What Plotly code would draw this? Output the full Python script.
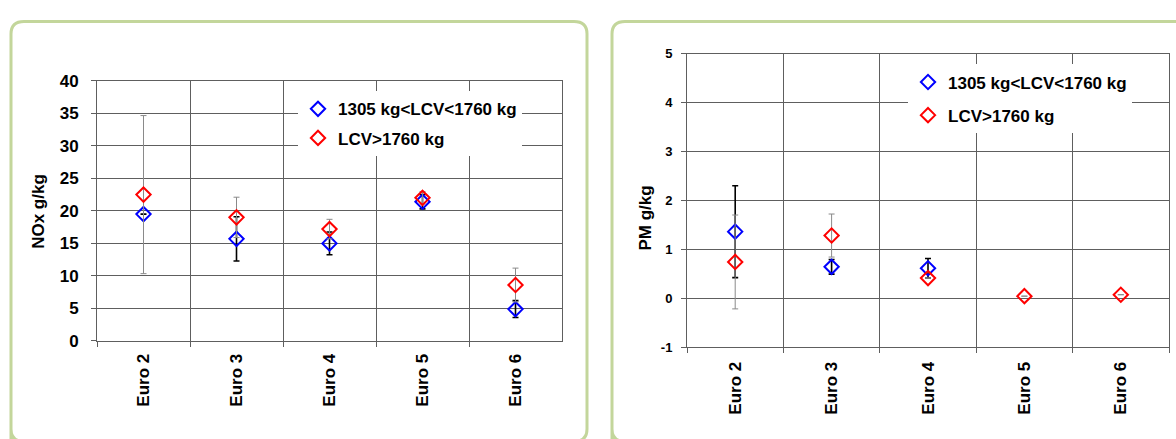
import plotly.graph_objects as go

# ---------------- data ----------------
categories = ["Euro 2", "Euro 3", "Euro 4", "Euro 5", "Euro 6"]
series_names = ["1305 kg<LCV<1760 kg", "LCV>1760 kg"]

nox_light = [19.5, 15.7, 15.0, 21.4, 4.9]
nox_light_err = [None, 3.4, 1.75, 1.1, 1.3]
nox_heavy = [22.5, 19.0, 17.2, 22.0, 8.6]
nox_heavy_err = [12.15, 3.1, 1.5, 0.95, 2.6]

pm_light = [1.36, 0.64, 0.61, None, None]
pm_light_err = [0.94, 0.15, 0.2, None, None]
pm_heavy = [0.74, 1.28, 0.41, 0.04, 0.07]
pm_heavy_err = [0.96, 0.44, None, None, None]

nox_ticks = [0, 5, 10, 15, 20, 25, 30, 35, 40]
pm_ticks = [-1, 0, 1, 2, 3, 4, 5]
pm_tick_labels = ["-1", "0", "1", "2", "3", "4", "5"]

# ---------------- styling ----------------
W, H = 1176, 439
FONT = "Liberation Sans, Arial, sans-serif"
BLUE, RED = "#0000ff", "#ff0000"
GRID = "#5e5e5e"
BORDER = "#c3d69b"


def px(x):
    return x / W


def py(y):
    return 1 - y / H


fig = go.Figure()


def add_pair(light, light_err, heavy, heavy_err, xa, ya, legend, tag):
    fig.add_trace(go.Scatter(
        x=categories, y=light, mode="markers", name=series_names[0],
        xaxis=xa, yaxis=ya, legend=legend, legendgroup=tag + "a",
        marker=dict(symbol="diamond-open", size=11, color=BLUE, line=dict(width=2, color=BLUE)),
        error_y=dict(type="data", array=light_err, visible=True, color="#000000", thickness=1.6, width=3),
    ))
    fig.add_trace(go.Scatter(
        x=categories, y=heavy, mode="markers", name=series_names[1],
        xaxis=xa, yaxis=ya, legend=legend, legendgroup=tag + "b",
        marker=dict(symbol="diamond-open", size=11, color=RED, line=dict(width=2, color=RED)),
        error_y=dict(type="data", array=heavy_err, visible=True, color="#8a8a8a", thickness=1, width=3),
    ))


add_pair(nox_light, nox_light_err, nox_heavy, nox_heavy_err, "x", "y", "legend", "nox")
add_pair(pm_light, pm_light_err, pm_heavy, pm_heavy_err, "x2", "y2", "legend2", "pm")

xaxis_common = dict(
    type="category", tickson="boundaries", range=[-0.5, 4.5],
    showgrid=True, gridcolor=GRID, gridwidth=1,
    ticks="outside", ticklen=5, tickcolor=GRID,
    showline=True, linecolor=GRID, mirror=True,
    tickangle=-90,
    tickfont=dict(family=FONT, size=17, color="#000000", weight="bold"),
    fixedrange=True,
)
yaxis_common = dict(
    showgrid=True, gridcolor=GRID, gridwidth=1, zeroline=False,
    ticks="outside", ticklen=5, tickcolor=GRID,
    showline=True, linecolor=GRID, mirror=True,
    fixedrange=True,
)

legend_common = dict(
    bgcolor="#ffffff", borderwidth=0, xanchor="left", yanchor="top",
    font=dict(family=FONT, size=17, color="#000000", weight="bold"),
    itemclick=False, itemdoubleclick=False,
)

fig.update_layout(
    width=W, height=H,
    margin=dict(l=0, r=0, t=0, b=0),
    paper_bgcolor="#ffffff", plot_bgcolor="#ffffff",
    showlegend=True,
    xaxis=dict(domain=[px(97), px(562)], anchor="y", ticklabelstandoff=5, **xaxis_common),
    yaxis=dict(domain=[py(347), py(75)], anchor="x", range=[0, 40],
               tickvals=nox_ticks,
               ticklabelstandoff=9,
               tickfont=dict(family=FONT, size=17, color="#000000", weight="bold"),
               **yaxis_common),
    xaxis2=dict(domain=[px(687), px(1169)], anchor="y2", ticklabelstandoff=7, **xaxis_common),
    yaxis2=dict(domain=[py(353.3), py(46.7)], anchor="x2", range=[-1, 5],
                tickvals=pm_ticks, ticktext=pm_tick_labels,
                ticklabelstandoff=6,
                tickfont=dict(family=FONT, size=13, color="#000000", weight="bold"),
                **yaxis_common),
    legend=dict(x=px(298), y=py(86), tracegroupgap=4, **legend_common),
    legend2=dict(x=px(908), y=py(58), tracegroupgap=8, **legend_common),
    annotations=[
        dict(text="NOx g/kg", xref="paper", yref="paper", x=px(39), y=py(212),
             textangle=-90, showarrow=False, xanchor="center", yanchor="middle",
             font=dict(family=FONT, size=17, color="#000000", weight="bold")),
        dict(text="PM g/kg", xref="paper", yref="paper", x=px(646), y=py(219),
             textangle=-90, showarrow=False, xanchor="center", yanchor="middle",
             font=dict(family=FONT, size=17, color="#000000", weight="bold")),
    ],
)


def rounded_box(x0, y0, x1, y1, r=13):
    rx, ry = r / W, r / H
    X0, X1 = px(x0), px(x1)
    Y0, Y1 = py(y0), py(y1)  # Y0 top, Y1 bottom
    return (f"M {X0},{Y1} L {X0},{Y0 - ry} Q {X0},{Y0} {X0 + rx},{Y0} "
            f"L {X1 - rx},{Y0} Q {X1},{Y0} {X1},{Y0 - ry} L {X1},{Y1 + ry} "
            f"Q {X1},{Y1} {X1 - rx},{Y1} L {X0 + rx},{Y1} Q {X0},{Y1} {X0},{Y1 + ry} Z")


fig.update_layout(shapes=[
    dict(type="path", xref="paper", yref="paper", path=rounded_box(11, 13, 587, 452),
         line=dict(color=BORDER, width=3), fillcolor="rgba(0,0,0,0)", layer="below"),
    dict(type="path", xref="paper", yref="paper", path=rounded_box(612, 13, 1195, 452),
         line=dict(color=BORDER, width=3), fillcolor="rgba(0,0,0,0)", layer="below"),
])

fig.write_html("out.html")
